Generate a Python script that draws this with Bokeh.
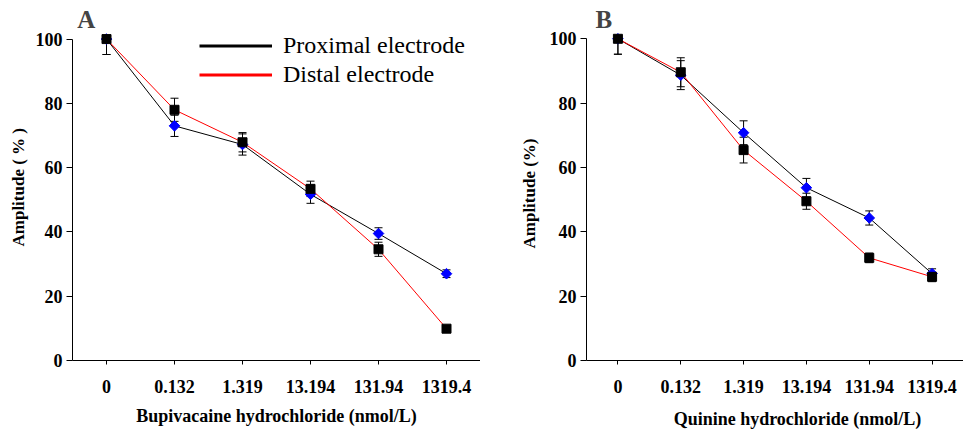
import numpy as np
from bokeh.plotting import figure
from bokeh.models import (ColumnDataSource, Whisker, TeeHead, Label, Legend,
                          LegendItem, FixedTicker, Range1d, Title)
from bokeh.layouts import row
from bokeh.embed import file_html
from bokeh.resources import INLINE

# ---- data ----
concentrations = ["0", "0.132", "1.319", "13.194", "131.94", "1319.4"]
x_pos = list(range(len(concentrations)))
y_ticks = [0, 20, 40, 60, 80, 100]

a_proximal = [100, 73.0, 67.2, 51.7, 39.5, 27.0]
a_proximal_err = [4.8, 3.3, 3.3, 2.8, 1.8, 1.2]
a_distal = [100, 78.0, 67.9, 53.4, 34.6, 9.9]
a_distal_err = [4.8, 3.6, 3.0, 2.4, 2.2, 0.8]

b_proximal = [100, 88.7, 70.8, 53.7, 44.3, 27.0]
b_proximal_err = [4.8, 4.5, 3.7, 2.9, 2.2, 1.5]
b_distal = [100, 89.6, 65.4, 49.5, 31.9, 26.0]
b_distal_err = [4.8, 4.5, 4.0, 2.5, 1.5, 1.5]

SERIF = "Liberation Serif"
BLUE = "#0000FF"
NBSP = "\u00a0"


def make_panel(letter, prox, prox_err, dist, dist_err, xtitle, ytitle,
               width, border_left, border_bottom, y_end, letter_x, letter_y,
               ytitle_offset, ytitle_standoff, xtitle_standoff, legend=False):
    p = figure(width=width, height=432,
               x_range=Range1d(-0.5, 5.5), y_range=Range1d(0, y_end),
               output_backend="svg", toolbar_location=None,
               min_border_left=border_left, min_border_right=0,
               min_border_top=0, min_border_bottom=border_bottom)
    p.outline_line_color = None
    p.grid.visible = False

    xa = p.xaxis[0]
    xa.ticker = FixedTicker(ticks=x_pos)
    xa.major_label_overrides = {i: lab for i, lab in zip(x_pos, concentrations)}
    xa.minor_tick_line_color = None
    xa.major_tick_in = 0
    xa.major_tick_out = 4
    xa.major_label_standoff = 15
    xa.major_label_text_font = SERIF
    xa.major_label_text_font_style = "bold"
    xa.major_label_text_font_size = "18px"
    xa.major_label_text_color = "black"
    xa.axis_line_color = "black"
    xa.major_tick_line_color = "black"
    xa.axis_label = xtitle
    xa.axis_label_standoff = xtitle_standoff
    xa.axis_label_text_font = SERIF
    xa.axis_label_text_font_style = "bold"
    xa.axis_label_text_font_size = "18px"
    xa.axis_label_text_color = "black"

    ya = p.yaxis[0]
    ya.ticker = FixedTicker(ticks=y_ticks)
    ya.bounds = (0, 100)
    ya.minor_tick_line_color = None
    ya.major_tick_in = 0
    ya.major_tick_out = 6
    ya.major_label_standoff = 4
    ya.major_label_text_font = SERIF
    ya.major_label_text_font_style = "bold"
    ya.major_label_text_font_size = "18px"
    ya.major_label_text_color = "black"
    ya.axis_line_color = "black"
    ya.major_tick_line_color = "black"

    x = np.array(x_pos)
    pr = np.array(prox); pe = np.array(prox_err)
    di = np.array(dist); de = np.array(dist_err)
    src_p = ColumnDataSource(dict(x=x, y=pr, lo=pr - pe, up=np.minimum(pr + pe, 100)))
    src_d = ColumnDataSource(dict(x=x, y=di, lo=di - de, up=np.minimum(di + de, 100)))

    p.line("x", "y", source=src_p, line_color="black", line_width=1)
    p.line("x", "y", source=src_d, line_color="#FF0000", line_width=1)

    for src in (src_p, src_d):
        w = Whisker(source=src, base="x", upper="up", lower="lo", dimension="height",
                    line_color="black", line_width=1,
                    upper_head=TeeHead(size=8, line_color="black", line_width=1),
                    lower_head=TeeHead(size=8, line_color="black", line_width=1))
        p.add_layout(w)

    p.scatter("x", "y", source=src_p, marker="square", angle=np.pi / 4, size=7.5,
              fill_color=BLUE, line_color=BLUE)
    p.scatter("x", "y", source=src_d, marker="square", size=9,
              fill_color="black", line_color="black")

    p.add_layout(Label(x=letter_x, y=letter_y, text=letter, text_font=SERIF,
                       text_font_style="bold", text_font_size="25px",
                       text_align="left", text_baseline="alphabetic"))

    # y axis title
    p.add_layout(Title(text=ytitle, align="left", offset=ytitle_offset,
                       standoff=ytitle_standoff, text_font=SERIF,
                       text_font_style="bold", text_font_size="17px",
                       text_color="black"), "left")

    if legend:
        r1 = p.line(x=[np.nan], y=[np.nan], line_color="black", line_width=3)
        r2 = p.line(x=[np.nan], y=[np.nan], line_color="#FF0000", line_width=3)
        lg = Legend(items=[LegendItem(label="Proximal electrode", renderers=[r1]),
                           LegendItem(label="Distal electrode", renderers=[r2])],
                    location=(127, 271), padding=0, margin=0, spacing=0,
                    glyph_width=73, glyph_height=29, label_height=29,
                    label_standoff=11, border_line_color=None,
                    background_fill_alpha=0,
                    label_text_font=SERIF, label_text_font_size="24px",
                    label_text_color="black")
        p.add_layout(lg)
    return p


pa = make_panel("A", a_proximal, a_proximal_err, a_distal, a_distal_err,
                "Bupivacaine hydrochloride (nmol/L)", "Amplitude ( % )",
                width=480, border_left=72, border_bottom=69, y_end=112.0,
                letter_x=-0.43, letter_y=106.2, ytitle_offset=114,
                ytitle_standoff=10, xtitle_standoff=10, legend=True)
pb = make_panel("B", b_proximal, b_proximal_err, b_distal, b_distal_err,
                NBSP * 10 + "Quinine hydrochloride (nmol/L)", "Amplitude (%)",
                width=483, border_left=106, border_bottom=72, y_end=111.9,
                letter_x=-0.356, letter_y=106.1, ytitle_offset=112,
                ytitle_standoff=16, xtitle_standoff=13, legend=False)

layout = row(pa, pb)
open("out.html", "w").write(file_html(layout, INLINE))
